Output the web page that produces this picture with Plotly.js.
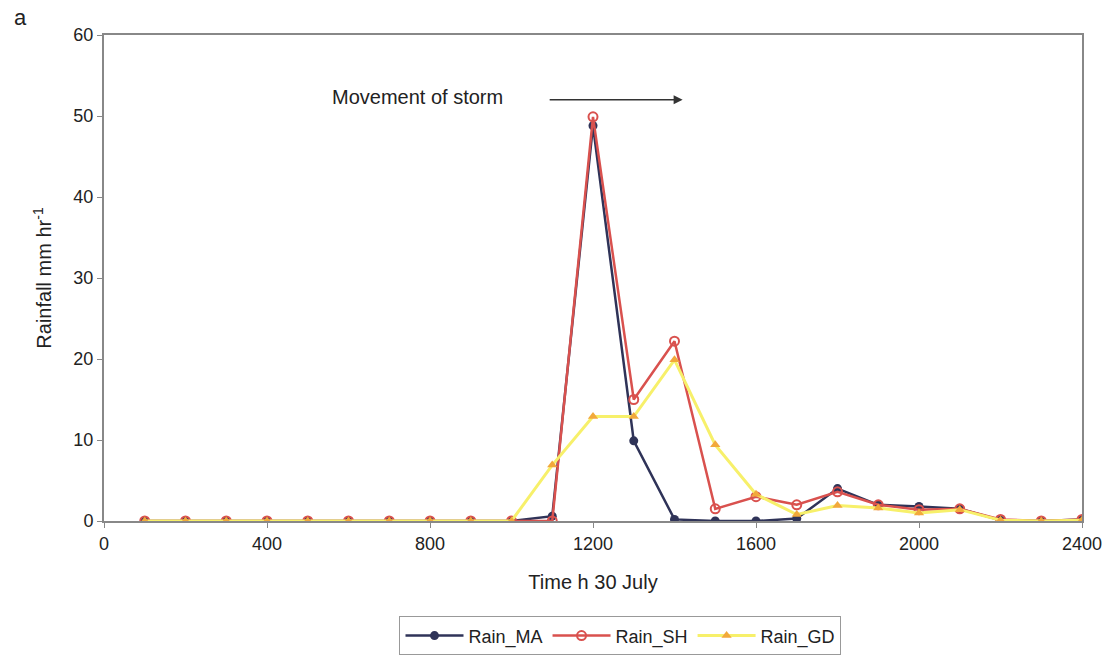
<!DOCTYPE html>
<html>
<head>
<meta charset="utf-8">
<script src="https://cdn.plot.ly/plotly-3.0.1.min.js"></script>
<style>html,body{margin:0;padding:0;background:#fff;}#chart{width:1113px;height:658px;}</style>
</head>
<body>
<div id="chart"></div>
<script>
const hours = [100,200,300,400,500,600,700,800,900,1000,1100,1200,1300,1400,1500,1600,1700,1800,1900,2000,2100,2200,2300,2400];
const rainMA = [0,0,0,0,0,0,0,0,0,0,0.6,48.8,9.9,0.2,0,0,0.3,4.0,2.0,1.8,1.5,0.1,0,0.2];
const rainSH = [0,0,0,0,0,0,0,0,0,0,0,49.9,15.0,22.2,1.5,3.0,2.0,3.6,2.0,1.4,1.5,0.2,0,0.2];
const rainGD = [0,0,0,0,0,0,0,0,0,0,6.9,12.9,12.9,19.9,9.4,3.3,0.8,1.9,1.6,1.0,1.4,0.1,0,0.1];
const seriesNames = ["Rain_MA","Rain_SH","Rain_GD"];

const font = "Liberation Sans, Arial, sans-serif";
const traces = [
  {x: hours, y: rainMA, name: seriesNames[0], mode: "lines+markers",
   line: {color: "#2f3358", width: 2.5},
   marker: {symbol: "circle", size: 9, color: "#2f3358"}},
  {x: hours, y: rainSH, name: seriesNames[1], mode: "lines+markers",
   line: {color: "#d9514e", width: 2.5},
   marker: {symbol: "circle-open", size: 9, color: "#d9514e", line: {width: 2, color: "#d9514e"}}},
  {x: hours, y: rainGD, name: seriesNames[2], mode: "lines+markers",
   line: {color: "#f7f06a", width: 3},
   marker: {symbol: "triangle-up", size: 9, color: "#f2a93b"}}
];

const layout = {
  width: 1113, height: 658,
  margin: {l: 104, r: 31, t: 35, b: 137, autoexpand: false},
  paper_bgcolor: "#fff", plot_bgcolor: "#fff",
  font: {family: font, size: 18, color: "#222"},
  showlegend: true,
  legend: {orientation: "h", x: 0.5575, xanchor: "center", xref: "container",
           y: 0.004, yanchor: "bottom", yref: "container",
           bordercolor: "#999", borderwidth: 1, font: {size: 18, color: "#222"},
           itemwidth: 58, traceorder: "normal", tracegroupgap: 0},
  xaxis: {range: [0, 2400], dtick: 400, tick0: 0, showgrid: false, zeroline: false,
          showline: true, mirror: true, linecolor: "#888", linewidth: 2,
          ticks: "outside", ticklen: 5, tickcolor: "#888",
          tickfont: {size: 18, color: "#222"},
          title: {text: "Time h 30 July", font: {size: 20, color: "#222"}, standoff: 22}},
  yaxis: {range: [0, 60], dtick: 10, showgrid: false, zeroline: false,
          showline: true, mirror: true, linecolor: "#888", linewidth: 2,
          ticks: "outside", ticklen: 5, tickcolor: "#888",
          tickfont: {size: 18, color: "#222"},
          title: {text: "Rainfall mm hr<sup>-1</sup>", font: {size: 20, color: "#222"}, standoff: 16}},
  annotations: [
    {x: 770, y: 52.3, xref: "x", yref: "y", text: "Movement of storm", showarrow: false,
     font: {size: 20, color: "#222"}},
    {x: 1420, y: 52.0, ax: 1090, ay: 52.0, xref: "x", yref: "y", axref: "x", ayref: "y",
     text: "", showarrow: true, arrowhead: 2, arrowsize: 1.2, arrowwidth: 1.5, arrowcolor: "#333"},
    {x: -0.094, y: 1.065, xref: "paper", yref: "paper", xanchor: "left", yanchor: "top",
     text: "a", showarrow: false, font: {size: 22, color: "#222"}}
  ]
};
Plotly.newPlot("chart", traces, layout, {displayModeBar: false, staticPlot: true});
</script>
</body>
</html>
